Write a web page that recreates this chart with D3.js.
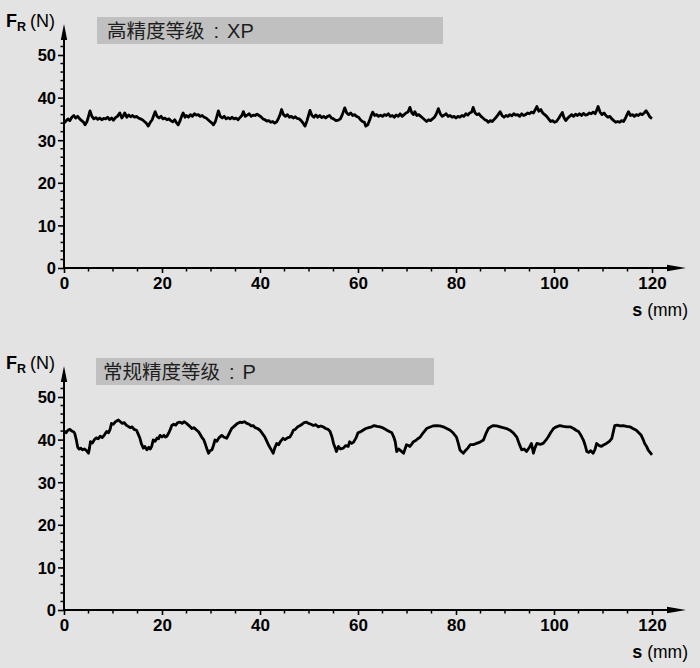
<!DOCTYPE html>
<html><head><meta charset="utf-8">
<script src="https://cdn.jsdelivr.net/npm/d3@7"></script>
<style>
html,body{margin:0;padding:0;background:#e3e3e3;}
svg{display:block;font-family:"Liberation Sans",Arial,Helvetica,sans-serif;}
</style></head>
<body>
<svg id="chart" width="700" height="668"></svg>
<script>
// ---- data ----
const titleTop = "高精度等级";
const gradeTop = "XP";
const titleBottom = "常规精度等级";
const gradeBottom = "P";
const xTicks = [0, 20, 40, 60, 80, 100, 120];
const yTicks = [0, 10, 20, 30, 40, 50];

const sTop = [0,0.4,0.8,1.2,1.6,2.0,2.4,2.8,3.2,3.6,4.0,4.3,4.7,5.0,5.3,5.7,6.1,6.5,6.9,7.3,7.7,8.1,8.5,8.9,9.3,9.7,10.1,10.5,10.9,11.4,11.8,12.1,12.4,12.8,13.2,13.6,14.0,14.4,14.8,15.2,15.6,16.0,16.4,16.8,17.2,17.6,18.0,18.3,18.6,19.0,19.4,19.8,20.2,20.6,21.0,21.4,21.8,22.2,22.6,23.0,23.3,23.7,24.0,24.3,24.7,25.0,25.4,25.8,26.2,26.6,27.0,27.4,27.8,28.2,28.6,29.0,29.4,29.8,30.2,30.5,30.9,31.2,31.5,31.9,32.3,32.7,33.1,33.5,33.9,34.3,34.7,35.1,35.5,35.9,36.3,36.6,37.0,37.4,37.8,38.2,38.6,39.0,39.4,39.8,40.2,40.6,41.0,41.4,41.8,42.2,42.6,43.0,43.4,43.8,44.1,44.4,44.8,45.2,45.6,46.0,46.4,46.8,47.2,47.6,48.0,48.4,48.8,49.2,49.6,49.9,50.2,50.6,51.0,51.4,51.8,52.2,52.6,53.0,53.4,53.8,54.2,54.6,55.0,55.5,56.0,56.4,56.8,57.3,57.7,58.1,58.5,58.9,59.3,59.7,60.1,60.5,60.9,61.3,61.6,62.0,62.4,62.7,63.0,63.4,63.8,64.2,64.6,65.0,65.4,65.8,66.2,66.6,67.0,67.4,67.8,68.2,68.6,69.0,69.4,69.8,70.2,70.6,71.0,71.3,71.6,72.0,72.4,72.8,73.2,73.6,74.0,74.4,74.8,75.2,75.6,76.0,76.4,76.8,77.2,77.6,78.0,78.4,78.8,79.2,79.6,80.0,80.4,80.8,81.2,81.6,82.0,82.4,82.8,83.2,83.5,83.9,84.3,84.7,85.1,85.5,85.9,86.3,86.6,87.0,87.4,87.8,88.2,88.6,89.0,89.4,89.8,90.2,90.6,91.0,91.4,91.8,92.2,92.6,93.0,93.4,93.8,94.2,94.6,95.0,95.4,95.8,96.2,96.5,96.9,97.3,97.7,98.1,98.5,98.9,99.3,99.7,100.1,100.5,101.0,101.3,101.7,102.0,102.4,102.8,103.2,103.6,104.0,104.4,104.8,105.2,105.6,106.0,106.4,106.8,107.2,107.6,108.0,108.4,108.7,109.0,109.4,109.8,110.2,110.6,111.0,111.4,111.8,112.2,112.6,113.0,113.4,113.8,114.2,114.6,114.9,115.2,115.6,116.0,116.4,116.8,117.2,117.6,118.0,118.4,118.8,119.2,119.6,120.0];
const fTop = [34.0,34.5,35.0,34.6,35.4,35.8,35.2,35.6,35.0,34.6,34.2,33.6,34.4,35.6,36.9,35.6,35.0,35.3,34.9,35.2,34.8,35.1,35.0,35.4,34.8,35.2,34.7,35.3,35.6,36.4,35.2,35.7,36.4,35.4,35.9,35.5,35.8,35.4,35.6,35.2,35.0,34.8,34.4,34.0,33.3,34.2,34.8,35.8,36.7,35.6,35.2,35.6,35.0,35.2,34.8,35.0,34.6,34.3,34.8,34.0,33.6,34.6,35.6,36.4,35.4,35.8,35.4,36.0,35.6,36.2,35.9,36.0,35.6,35.8,35.4,35.2,34.8,34.4,34.0,33.6,34.4,35.6,36.9,35.6,35.2,35.6,35.0,35.3,35.0,35.4,35.0,35.2,34.8,35.3,35.8,36.7,35.6,35.9,36.2,35.6,35.9,35.8,36.1,35.8,35.5,35.0,34.8,34.5,34.6,34.2,34.4,34.0,34.3,35.2,36.0,37.2,36.0,35.6,36.0,35.4,35.6,35.2,35.5,35.1,35.0,34.6,34.0,33.3,34.6,35.8,37.0,35.8,35.4,35.9,35.4,35.8,35.3,35.6,35.2,35.6,35.8,35.2,35.0,34.6,34.7,35.0,36.0,37.6,36.4,36.0,36.4,35.8,36.0,35.6,35.4,34.8,34.4,34.2,33.3,33.6,34.8,35.8,36.6,35.8,36.0,35.6,35.9,35.6,36.0,35.8,36.2,35.6,35.8,35.4,35.9,35.6,36.2,35.6,36.0,36.4,36.6,37.7,36.4,36.0,36.7,35.8,36.0,35.6,35.2,34.8,34.4,34.8,34.6,35.0,35.4,36.2,37.4,36.2,35.6,35.9,36.2,35.6,35.8,35.4,35.6,35.2,35.6,35.4,35.8,35.6,36.2,35.9,36.4,36.6,37.7,36.4,36.0,36.2,35.6,35.2,34.8,34.6,34.2,34.6,34.4,34.9,35.4,36.0,36.7,35.8,35.4,35.8,35.6,36.0,35.7,36.2,35.9,36.0,35.6,36.2,35.8,36.0,36.4,36.2,36.6,36.4,37.2,37.9,36.8,37.2,36.4,36.0,35.6,35.0,34.4,34.6,34.2,34.4,35.2,35.8,36.5,35.4,34.6,35.2,35.6,36.0,35.6,36.1,35.8,36.2,35.8,36.3,35.9,36.0,36.4,36.2,36.6,36.2,37.0,37.9,36.6,36.0,36.4,35.8,35.4,35.6,35.0,34.6,34.2,34.4,34.2,34.6,34.4,35.2,36.0,36.7,35.8,36.0,35.6,36.0,35.8,36.2,36.0,36.4,36.9,36.2,35.4,35.1];

const sBottom = [0,0.4,0.8,1.2,1.6,2.0,2.2,2.5,2.8,3.1,3.4,3.8,4.2,4.6,5.0,5.2,5.4,5.8,6.2,6.6,7.0,7.4,7.8,8.2,8.7,9.1,9.4,9.7,10.1,10.5,11.1,11.5,11.9,12.3,12.7,13.1,13.5,13.9,14.3,14.8,15.1,15.5,15.8,16.2,16.5,16.9,17.3,17.6,17.9,18.2,18.6,19.0,19.3,19.6,20.0,20.4,20.7,21.0,21.4,21.7,22.0,22.4,22.8,23.2,23.7,24.1,24.5,25.0,25.4,25.8,26.1,26.5,27.1,27.5,28.1,28.5,28.8,29.1,29.5,29.8,30.2,30.5,30.8,31.2,31.6,32.2,32.6,33.2,33.6,34.2,34.6,35.0,35.4,35.9,36.3,36.8,37.3,37.8,38.2,38.6,39.0,39.5,40.0,40.5,41.0,41.4,41.8,42.1,42.4,42.7,43.0,43.4,43.8,44.2,44.7,45.1,45.6,46.1,46.5,46.8,47.2,47.7,48.2,48.6,49.0,49.5,49.9,50.4,50.9,51.4,51.9,52.4,52.9,53.4,53.9,54.3,54.7,55.0,55.3,55.6,56.0,56.4,57.0,57.5,58.0,58.3,58.7,59.1,59.6,60.0,60.5,61.0,61.6,62.2,62.8,63.3,63.9,64.5,65.0,65.5,65.9,66.4,66.9,67.3,67.6,67.9,68.3,68.7,69.3,69.9,70.3,70.6,71.0,71.3,71.8,72.2,72.7,73.3,74.0,74.6,75.3,76.0,76.7,77.4,78.1,78.8,79.4,80.1,80.5,80.8,81.1,81.5,81.9,82.4,82.9,83.5,84.2,84.9,85.6,86.1,86.6,87.1,87.6,88.3,89.0,89.6,90.3,91.0,91.7,92.4,92.9,93.4,93.9,94.4,95.0,95.4,95.8,96.1,96.5,97.2,97.8,98.3,98.8,99.3,99.9,100.5,101.2,101.9,102.6,103.3,104.0,104.5,105.0,105.5,106.0,106.4,106.7,107.1,107.5,108.0,108.4,108.7,109.2,109.7,110.2,110.7,111.3,111.8,112.1,112.4,112.9,113.5,114.1,114.8,115.5,116.1,116.8,117.3,117.8,118.2,118.5,118.9,119.2,119.6,120.0];
const fBottom = [42.0,41.6,42.2,42.4,42.0,41.8,41.4,40.0,38.2,37.8,38.0,37.6,37.8,37.4,36.8,38.0,39.5,39.2,40.0,40.4,40.2,40.8,40.5,41.0,41.9,41.6,42.4,43.8,43.6,44.2,44.6,44.2,43.8,44.0,43.4,43.1,42.8,43.0,42.4,42.2,41.4,40.3,39.0,38.0,38.4,37.6,38.2,37.8,38.4,39.9,39.6,40.4,40.2,41.0,40.6,41.0,40.6,40.8,41.6,42.4,43.3,43.6,43.4,44.0,44.1,43.8,44.2,43.8,43.4,43.0,42.6,42.8,42.2,41.8,40.6,40.0,39.1,38.0,36.8,37.4,37.6,38.6,39.9,39.6,40.4,41.0,40.6,40.3,41.2,42.6,43.0,43.4,43.8,44.1,44.0,44.2,43.8,43.6,43.2,43.3,42.8,42.6,42.2,41.4,40.6,39.6,38.6,38.0,37.4,36.8,38.0,39.1,38.8,39.6,40.3,40.0,40.4,40.6,41.4,42.2,42.4,43.0,43.3,43.6,44.0,44.1,43.8,43.6,43.3,43.5,43.0,43.2,43.0,42.6,42.4,41.9,40.6,39.1,38.2,37.2,38.4,37.8,38.0,38.6,38.4,39.5,39.1,39.4,40.4,41.6,41.8,42.2,42.6,42.8,43.0,43.3,43.1,43.0,42.8,42.5,42.2,41.9,41.6,40.6,39.5,37.2,37.8,37.4,36.8,38.8,38.6,38.4,39.0,39.5,39.8,40.2,40.6,41.6,42.6,42.9,43.2,43.3,43.2,43.0,42.6,42.2,41.6,40.6,39.0,37.6,37.2,36.8,37.4,38.0,38.8,38.8,39.1,39.4,39.9,41.4,42.6,43.0,43.3,43.2,43.0,42.8,42.6,42.2,41.6,40.6,39.0,37.6,37.8,37.2,38.2,39.1,36.8,38.0,39.1,38.9,39.1,39.8,40.6,41.6,42.6,43.0,43.3,43.1,43.0,43.0,42.6,42.2,41.9,41.0,39.9,38.5,37.2,37.0,37.4,36.8,37.8,39.1,38.6,38.4,38.8,39.1,39.6,40.3,41.8,43.3,43.4,43.2,43.3,43.1,43.0,42.6,42.2,41.6,41.0,40.0,39.1,38.4,37.6,37.0,36.4];

// ---- drawing ----
const svg = d3.select("#chart");
const X0 = 64, X1 = 652;
const latin = "'Liberation Sans', Arial, Helvetica, sans-serif";

function panel(offsetY, sArr, fArr, title, grade, box) {
  const g = svg.append("g").attr("transform", `translate(0,${offsetY})`);
  const x = d3.scaleLinear().domain([0, 120]).range([X0, X1]);
  const y = d3.scaleLinear().domain([0, 50]).range([268, 55]);

  // title box
  g.append("rect").attr("x", box[0]).attr("y", box[1]).attr("width", box[2]).attr("height", 27).attr("fill", "#c0c0c0");
  const t = g.append("text").attr("x", box[0] + box[3]).attr("y", box[1] + 21)
    .attr("font-size", 19.5).attr("fill", "#1e1e1e").attr("font-family", "'Noto Sans CJK SC', sans-serif");
  t.append("tspan").text(title);
  t.append("tspan").attr("font-family", latin).attr("font-size", 20).attr("dx", 9).text(":");
  t.append("tspan").attr("font-family", latin).attr("font-size", 20).attr("dx", 8).text(grade);

  // y axis minor ticks
  const yMinor = d3.range(0, 53, 2).filter(v => v % 10 !== 0);
  g.selectAll(".ym").data(yMinor).join("line")
    .attr("x1", X0 - 3.5).attr("x2", X0).attr("y1", d => y(d)).attr("y2", d => y(d))
    .attr("stroke", "#000").attr("stroke-width", 1.5);
  // x axis minor ticks
  const xMinor = d3.range(5, 121, 5).filter(v => v % 20 !== 0);
  g.selectAll(".xm").data(xMinor).join("line")
    .attr("x1", d => x(d)).attr("x2", d => x(d)).attr("y1", y(0)).attr("y2", y(0) + 3.5)
    .attr("stroke", "#000").attr("stroke-width", 1.5);

  // y axis
  const ya = g.append("g").attr("transform", `translate(${X0},0)`)
    .call(d3.axisLeft(y).tickValues(yTicks).tickSize(6).tickPadding(2).tickFormat(d3.format("d")));
  ya.select(".domain").remove();
  ya.selectAll(".tick line").attr("stroke-width", 1.6);
  ya.selectAll(".tick text").attr("font-size", 16.5).attr("font-weight", "bold").attr("fill", "#000")
    .attr("font-family", latin).attr("dy", "0.36em");

  // x axis
  const xa = g.append("g").attr("transform", `translate(0,${y(0)})`)
    .call(d3.axisBottom(x).tickValues(xTicks).tickSize(5).tickPadding(4).tickFormat(d3.format("d")));
  xa.select(".domain").remove();
  xa.selectAll(".tick line").attr("stroke-width", 1.6);
  xa.selectAll(".tick text").attr("font-size", 17).attr("font-weight", "bold").attr("fill", "#000")
    .attr("font-family", latin);

  // axis lines with arrows
  g.append("line").attr("x1", X0).attr("x2", X0).attr("y1", y(0) + 1).attr("y2", 34)
    .attr("stroke", "#000").attr("stroke-width", 2);
  g.append("path").attr("d", `M${X0},24 L${X0 - 3.2},40 L${X0 + 3.2},40 Z`).attr("fill", "#000");
  g.append("line").attr("x1", X0 - 1).attr("x2", 676).attr("y1", y(0)).attr("y2", y(0))
    .attr("stroke", "#000").attr("stroke-width", 2);
  g.append("path").attr("d", `M686,${y(0)} L667,${y(0) - 3.2} L667,${y(0) + 3.2} Z`).attr("fill", "#000");

  // axis titles
  const fy = g.append("text").attr("x", 6).attr("y", 27).attr("fill", "#000").attr("font-family", latin);
  fy.append("tspan").attr("font-size", 18).attr("font-weight", "bold").text("F");
  fy.append("tspan").attr("font-size", 12.5).attr("font-weight", "bold").attr("dy", 4).text("R");
  fy.append("tspan").attr("font-size", 18).attr("dy", -4).attr("dx", 4).text("(N)");

  const sx = g.append("text").attr("x", 688).attr("y", 316).attr("text-anchor", "end").attr("fill", "#000")
    .attr("font-family", latin);
  sx.append("tspan").attr("font-size", 18).attr("font-weight", "bold").text("s");
  sx.append("tspan").attr("font-size", 17.5).attr("dx", 5).text("(mm)");

  // data line
  const pts = sArr.map((s, i) => [s, fArr[i]]);
  const line = d3.line().x(d => x(d[0])).y(d => y(d[1]));
  g.append("path").datum(pts).attr("d", line).attr("fill", "none")
    .attr("stroke", "#000").attr("stroke-width", 2.8).attr("stroke-linejoin", "round");
}

panel(0, sTop, fTop, titleTop, gradeTop, [97, 17, 346, 10]);
panel(342, sBottom, fBottom, titleBottom, gradeBottom, [96, 16, 338, 7]);
</script>
</body></html>
